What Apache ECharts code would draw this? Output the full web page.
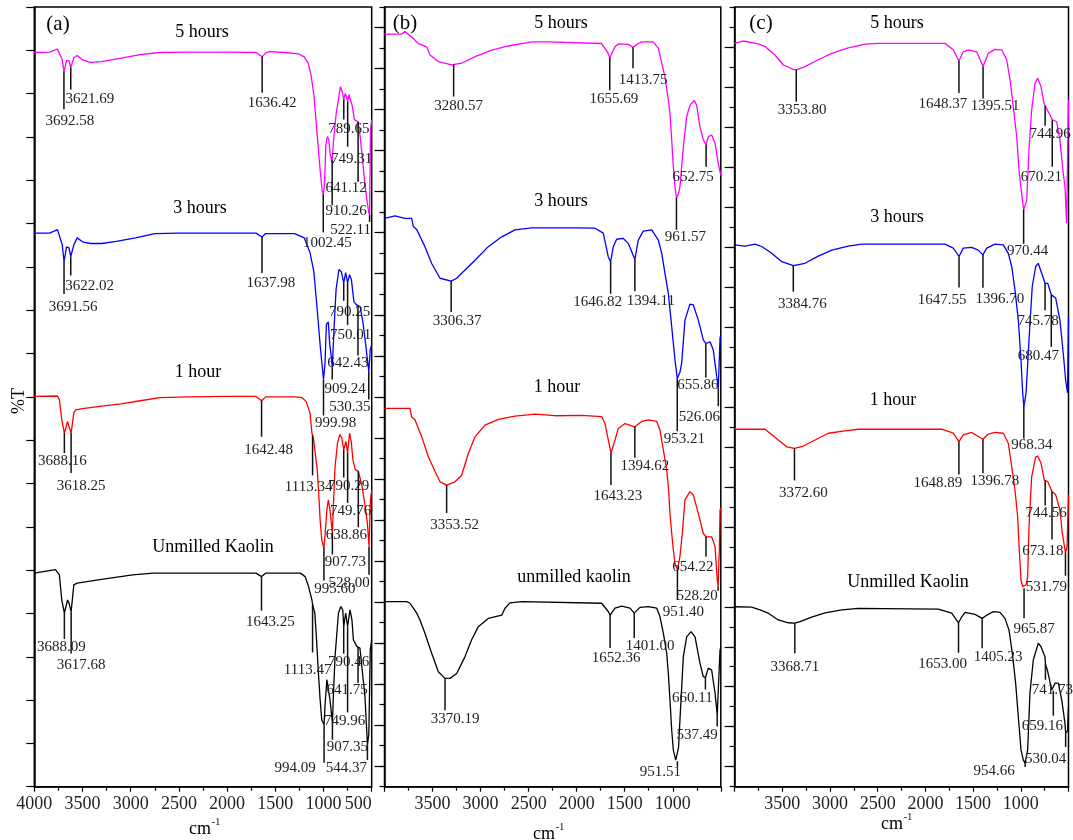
<!DOCTYPE html>
<html>
<head>
<meta charset="utf-8">
<script src="https://cdn.jsdelivr.net/npm/echarts@6/dist/echarts.min.js"></script>
<style>
  html, body { margin: 0; padding: 0; background: #fff; }
  #chart { width: 1073px; height: 840px; }
</style>
</head>
<body>
<div id="chart"></div>
<script>
// FTIR spectra of kaolin milled for different times: [wavenumber cm-1, offset %T]
// Panel (a)
const a_5h = [[4000,169.5],[3840,169.6],[3760,170.3],[3710,167.8],[3692,165.1],[3665,167.7],[3640,167.6],[3622,166.0],[3590,168.3],[3555,168.8],[3500,167.8],[3420,167.2],[3300,167.4],[3100,168.2],[2900,169.0],[2700,169.5],[2400,169.6],[2000,169.6],[1700,169.5],[1636,168.5],[1600,169.4],[1560,169.7],[1400,169.5],[1260,169.2],[1200,168.5],[1160,167.1],[1130,164.4],[1100,159.8],[1070,151.7],[1040,143.6],[1015,137.8],[1002,136.7],[990,139.0],[975,148.2],[960,150.1],[945,149.4],[930,145.9],[912,144.1],[895,149.4],[870,155.1],[845,158.6],[825,161.6],[805,160.4],[790,158.6],[775,160.0],[760,159.3],[749,158.1],[735,159.8],[718,160.2],[700,157.0],[680,154.0],[660,154.0],[641,153.5],[620,150.1],[600,145.9],[575,140.1],[550,135.5],[530,132.5],[522,132.0],[512,151.7],[500,154.0]];
const a_3h = [[4000,127.8],[3840,127.8],[3760,128.6],[3710,125.1],[3692,121.3],[3665,124.6],[3640,124.4],[3622,122.4],[3590,125.1],[3555,126.7],[3500,125.8],[3420,125.4],[3300,125.4],[3150,125.9],[2950,126.7],[2750,127.7],[2500,127.8],[2000,127.8],[1700,127.8],[1638,126.9],[1600,127.7],[1300,127.7],[1200,126.7],[1140,123.3],[1100,118.9],[1065,110.1],[1035,102.0],[1010,96.3],[1000,94.0],[985,97.4],[970,106.7],[950,107.3],[935,102.0],[920,99.5],[909,96.7],[890,106.0],[870,114.7],[840,119.4],[815,118.9],[790,116.3],[770,118.7],[750,116.3],[730,118.2],[710,117.0],[685,112.0],[660,111.3],[620,110.8],[590,107.1],[560,101.6],[530,95.8],[515,100.9],[500,102.0]];
const a_1h = [[4000,90.1],[3760,90.2],[3740,89.3],[3715,84.7],[3688,81.6],[3655,84.3],[3640,84.0],[3618,81.6],[3590,86.3],[3570,87.0],[3500,87.3],[3320,87.8],[3100,88.4],[2900,89.1],[2700,89.8],[2400,90.0],[2000,90.1],[1700,90.1],[1642,89.1],[1600,90.0],[1300,90.0],[1220,89.8],[1180,88.9],[1140,86.3],[1120,81.6],[1105,80.5],[1085,80.1],[1065,73.2],[1050,67.8],[1035,61.6],[1018,57.0],[996,55.1],[985,57.8],[965,63.9],[950,66.2],[933,63.9],[908,58.5],[898,64.7],[880,73.9],[855,79.3],[830,81.3],[810,80.5],[790,77.8],[768,79.7],[750,77.0],[730,81.6],[712,79.6],[695,75.5],[670,73.2],[638,72.8],[600,69.3],[568,64.7],[545,60.9],[528,55.4],[513,66.2],[500,68.5]];
const a_raw = [[4000,49.3],[3780,50.1],[3740,48.9],[3715,43.1],[3688,40.1],[3655,43.1],[3640,42.4],[3618,40.4],[3590,46.6],[3555,47.0],[3320,47.8],[2980,48.9],[2770,49.3],[2000,49.3],[1700,49.3],[1643,48.5],[1600,49.3],[1240,49.3],[1190,48.5],[1155,46.2],[1120,43.1],[1113,42.0],[1090,40.1],[1070,33.2],[1055,27.0],[1035,20.1],[1018,15.4],[994,14.3],[985,18.5],[965,24.7],[950,24.3],[933,20.1],[907,14.7],[898,20.8],[880,30.1],[845,40.1],[820,41.6],[800,40.8],[790,37.0],[770,40.1],[750,37.0],[725,40.8],[705,38.5],[690,33.9],[655,32.4],[622,32.0],[595,26.2],[570,20.8],[544,9.7],[530,12.0],[515,31.6],[500,33.9]];

const a_5h_peaks = [3692.58, 3621.69, 1636.42, 789.65, 749.31, 641.12, 910.26, 522.11, 1002.45];
const a_3h_peaks = [3691.56, 3622.02, 1637.98, 790.25, 750.01, 642.43, 909.24, 530.35, 999.98];
const a_1h_peaks = [3688.16, 3618.25, 1642.48, 1113.34, 790.29, 749.76, 638.86, 907.73, 528.00, 995.60];
const a_raw_peaks = [3688.09, 3617.68, 1643.25, 1113.47, 790.46, 641.75, 749.96, 907.35, 994.09, 544.37];

// Panel (b)
const b_5h = [[4000,183.4],[3821,183.4],[3787,184.0],[3717,182.7],[3648,181.1],[3561,180.3],[3526,178.3],[3440,176.7],[3300,175.9],[3197,176.3],[3058,177.9],[2884,179.5],[2712,180.5],[2468,181.5],[2295,181.5],[1740,181.1],[1680,179.0],[1655,177.7],[1601,180.3],[1567,181.0],[1463,180.9],[1413,180.2],[1359,181.1],[1323,181.5],[1203,181.5],[1150,179.9],[1115,176.3],[1081,173.0],[1046,167.3],[1029,164.1],[1011,157.6],[994,151.1],[977,146.2],[961,143.4],[940,144.5],[925,146.2],[890,155.9],[855,163.3],[821,166.1],[776,167.2],[751,166.1],[717,160.8],[682,157.6],[653,156.4],[630,158.4],[595,158.8],[560,156.8],[526,151.9],[508,149.9],[500,149.0]];
const b_3h = [[4000,138.5],[3891,139.1],[3787,138.5],[3717,138.5],[3700,136.5],[3665,135.8],[3579,131.6],[3509,127.5],[3422,123.9],[3306,123.2],[3249,123.9],[3162,125.9],[3058,128.3],[2920,131.6],[2780,134.0],[2642,135.7],[2468,136.2],[2017,136.2],[1809,136.1],[1723,134.9],[1671,129.1],[1647,127.9],[1619,131.6],[1584,133.4],[1515,133.6],[1463,132.4],[1394,128.5],[1359,133.2],[1307,135.4],[1219,135.7],[1150,133.2],[1115,130.0],[1081,125.1],[1046,120.2],[1011,112.1],[977,104.0],[953,99.5],[925,101.0],[907,103.2],[873,113.7],[821,117.6],[786,117.4],[734,113.7],[682,108.9],[656,108.0],[612,108.4],[578,106.4],[542,99.9],[526,97.1],[508,109.3],[500,110.0]];
const b_1h = [[4000,92.2],[3735,92.2],[3717,90.1],[3683,89.4],[3665,89.0],[3613,85.3],[3544,80.4],[3474,76.8],[3422,74.3],[3353,73.5],[3266,74.3],[3197,75.9],[3128,81.2],[3058,85.3],[2954,88.1],[2816,89.5],[2642,90.3],[2434,90.8],[2226,90.4],[1948,90.5],[1740,90.2],[1705,88.5],[1671,84.5],[1643,81.3],[1601,84.5],[1567,87.3],[1497,88.5],[1395,87.7],[1323,89.0],[1255,89.4],[1167,89.0],[1133,86.9],[1098,82.0],[1063,77.2],[1046,73.1],[1029,66.6],[1011,61.7],[994,57.7],[977,54.4],[951,52.8],[925,56.1],[901,61.7],[873,69.9],[821,71.9],[786,71.1],[734,66.6],[682,61.7],[654,60.9],[595,60.9],[560,58.5],[537,50.4],[528,48.7],[515,58.0],[508,67.4],[500,68.0]];
const b_raw = [[4000,45.1],[3769,45.1],[3735,44.7],[3700,43.5],[3665,42.3],[3631,40.6],[3579,37.4],[3509,32.5],[3440,28.0],[3370,26.4],[3318,26.4],[3249,27.6],[3162,31.7],[3093,35.8],[3024,39.0],[2920,41.0],[2780,41.8],[2746,43.5],[2694,44.8],[2572,45.1],[1740,44.7],[1671,42.7],[1652,41.8],[1601,43.5],[1532,44.0],[1445,43.5],[1401,42.3],[1341,43.7],[1255,43.9],[1167,43.5],[1133,41.4],[1098,37.4],[1063,32.5],[1046,27.6],[1029,21.1],[1011,13.8],[994,8.9],[969,6.5],[951,6.2],[940,9.5],[925,16.3],[890,31.7],[855,36.5],[810,37.8],[768,36.5],[717,30.1],[682,26.8],[660,26.6],[630,28.9],[595,28.4],[560,22.8],[537,17.5],[526,23.6],[508,33.3],[500,34.0]];

const b_5h_peaks = [3280.57, 1655.69, 1413.75, 652.75, 961.57];
const b_3h_peaks = [3306.37, 1646.82, 1394.11, 655.86, 526.06, 953.21];
const b_1h_peaks = [3353.52, 1643.23, 1394.62, 654.22, 528.20, 951.40];
const b_raw_peaks = [3370.19, 1652.36, 1401.00, 660.11, 537.49, 951.51];

// Panel (c)
const c_5h = [[4000,185.9],[3909,186.5],[3752,185.8],[3681,185.1],[3577,183.0],[3490,180.5],[3385,179.4],[3354,179.3],[3262,180.1],[3123,181.8],[2982,183.4],[2808,184.8],[2633,185.7],[2494,185.9],[1795,185.9],[1708,184.3],[1648,181.5],[1603,183.8],[1550,184.3],[1462,183.8],[1396,180.1],[1341,183.4],[1271,184.4],[1200,184.3],[1148,181.8],[1113,176.8],[1079,170.1],[1043,162.6],[1016,153.4],[991,148.4],[970,144.2],[938,146.7],[914,159.3],[886,169.3],[851,175.9],[823,177.2],[788,175.1],[757,170.9],[745,170.3],[729,170.1],[694,168.0],[670,166.8],[624,166.3],[590,161.7],[555,153.4],[537,150.1],[520,140.9],[503,141.0],[500,171.8]];
const c_3h = [[4000,135.5],[3891,135.2],[3786,135.7],[3716,135.1],[3611,133.4],[3506,131.3],[3385,130.3],[3262,130.9],[3123,132.7],[2982,134.2],[2808,135.2],[2668,135.7],[1795,135.7],[1708,134.7],[1648,132.6],[1603,134.7],[1515,134.9],[1446,134.2],[1397,133.0],[1357,134.7],[1271,135.7],[1183,135.5],[1131,133.4],[1095,130.1],[1061,124.2],[1026,116.7],[998,106.7],[980,98.4],[968,95.0],[945,98.4],[914,111.7],[880,125.1],[844,130.1],[817,130.9],[781,128.4],[746,125.9],[718,125.9],[680,123.0],[634,122.2],[590,116.7],[555,108.4],[530,101.7],[510,98.5],[500,117.2]];
const c_1h = [[4000,89.4],[3681,89.4],[3629,88.4],[3542,86.7],[3454,85.0],[3373,84.6],[3280,85.2],[3157,86.7],[3018,88.4],[2843,89.0],[2703,89.4],[1829,89.4],[1708,88.4],[1649,86.3],[1603,88.0],[1515,88.6],[1397,86.9],[1341,88.2],[1271,88.6],[1183,88.4],[1131,85.9],[1095,80.0],[1061,74.2],[1033,67.5],[1016,59.2],[998,51.7],[980,50.0],[966,49.6],[945,50.5],[928,52.5],[914,65.0],[886,77.5],[844,82.5],[823,82.7],[788,80.9],[754,76.7],[718,76.3],[673,73.8],[634,73.0],[590,69.2],[565,63.4],[532,58.5],[515,60.0],[500,73.0]];
const c_raw = [[4000,45.0],[3821,44.9],[3734,44.2],[3647,43.4],[3542,41.7],[3437,41.0],[3369,40.9],[3314,41.3],[3192,42.4],[3052,43.5],[2877,44.2],[2703,44.6],[1865,44.4],[1724,43.4],[1653,41.0],[1619,42.5],[1585,43.6],[1480,43.1],[1405,42.1],[1357,42.9],[1288,43.8],[1218,43.6],[1166,42.1],[1124,39.2],[1089,33.4],[1054,25.9],[1026,17.5],[998,9.2],[974,6.7],[955,5.9],[928,9.2],[904,23.4],[869,31.7],[817,35.9],[788,35.0],[747,32.5],[741,30.5],[722,29.2],[676,24.2],[659,24.0],[640,25.9],[607,25.9],[571,21.7],[537,15.9],[530,13.4],[510,14.0],[500,20.0]];

const c_5h_peaks = [3353.80, 1648.37, 1395.51, 744.96, 670.21, 970.44];
const c_3h_peaks = [3384.76, 1647.55, 1396.70, 745.78, 680.47, 968.34];
const c_1h_peaks = [3372.60, 1648.89, 1396.78, 744.56, 673.18, 531.79, 965.87];
const c_raw_peaks = [3368.71, 1653.00, 1405.23, 741.73, 659.16, 530.04, 954.66];

// Leader-line layout for each peak label: [line length px, text dx px, text dy px]
const a_5h_tags = [[38,6,12],[22,19,10],[36,10,10],[20,5,10],[45,4,12],[60,-12,6],[45,14,6],[7,-19,8],[38,4,11]];
const a_3h_tags = [[33,9,13],[19,19,11],[36,9,10],[18,6,11],[42,3,10],[50,-10,8],[12,13,9],[28,-19,8],[36,12,8]];
const a_1h_tags = [[20,-2,8],[40,10,13],[36,7,13],[40,-4,12],[28,5,9],[50,3,8],[56,-12,8],[22,13,7],[28,-20,8],[33,11,8]];
const a_raw_tags = [[26,-3,8],[42,10,12],[34,9,11],[48,-5,18],[28,5,8],[36,-11,7],[86,-3,9],[17,15,7],[38,-29,5],[16,-21,8]];
const b_5h_tags = [[32,5,10],[33,4,9],[21,10,12],[22,-13,10],[32,9,7]];
const b_3h_tags = [[31,6,9],[32,-13,8],[32,16,10],[34,-8,8],[18,-19,11],[53,7,8]];
const b_1h_tags = [[28,8,12],[32,7,11],[31,10,8],[20,-13,10],[4,-21,5],[30,6,12]];
const b_raw_tags = [[32,10,9],[33,6,10],[25,16,8],[12,-13,9],[12,-20,9],[5,-17,6]];
const c_5h_tags = [[32,6,8],[32,-16,11],[32,12,8],[20,5,8],[47,-11,10],[34,4,7]];
const c_3h_tags = [[26,9,12],[31,-17,13],[33,17,11],[27,-7,11],[52,-13,9],[32,8,7]];
const c_1h_tags = [[32,9,13],[33,-21,8],[34,12,8],[25,1,8],[48,-9,11],[23,-19,11],[30,10,11]];
const c_raw_tags = [[30,0,14],[30,-16,11],[30,16,9],[16,7,10],[25,-11,10],[14,-20,12],[4,-31,4]];

const SERIF = '"Liberation Serif", "Times New Roman", serif';
const COL = { h5: '#ff00ff', h3: '#0000ff', h1: '#ff0000', raw: '#000000' };

// value of a curve at a given wavenumber (linear between neighbouring points)
function curveAt(curve, wn) {
  for (let i = 0; i < curve.length - 1; i++) {
    const [x0, y0] = curve[i], [x1, y1] = curve[i + 1];
    if (wn <= x0 && wn >= x1) {
      const t = (x0 - wn) / (x0 - x1);
      return y0 + t * (y1 - y0);
    }
  }
  return curve[curve.length - 1][1];
}

function spectrum(curve, color, xi, yi) {
  return {
    type: 'line', data: curve, xAxisIndex: xi, yAxisIndex: yi,
    showSymbol: false, symbol: 'none', silent: true, z: 2,
    lineStyle: { color: color, width: 1.3 }
  };
}

function peakMarks(curve, peaks, tags, xi, yi) {
  return {
    type: 'custom', xAxisIndex: xi, yAxisIndex: yi, silent: true, z: 5, clip: false,
    encode: { x: 0, y: 1 },
    data: peaks.map((wn, i) => [wn, curveAt(curve, wn), tags[i][0], tags[i][1], tags[i][2]]),
    renderItem: function (params, api) {
      const wn = api.value(0);
      const p = api.coord([wn, api.value(1)]);
      const len = api.value(2), dx = api.value(3), dy = api.value(4);
      return {
        type: 'group',
        children: [
          { type: 'line', shape: { x1: p[0], y1: p[1], x2: p[0], y2: p[1] + len },
            style: { stroke: '#111', lineWidth: 1.5 } },
          { type: 'text', x: p[0] + dx, y: p[1] + len + dy,
            style: { text: wn.toFixed(2), fill: '#222', font: '15px ' + SERIF,
                     textAlign: 'center', textVerticalAlign: 'middle' } }
        ]
      };
    }
  };
}

const gridBox = { top: 7, height: 779.7, show: true, borderColor: '#000', borderWidth: 1.5, backgroundColor: 'transparent' };
const grids = [
  Object.assign({ left: 34.3, width: 337.4 }, gridBox),
  Object.assign({ left: 384.5, width: 336.3 }, gridBox),
  Object.assign({ left: 734.6, width: 333.9 }, gridBox)
];

const xAxes = [0, 1, 2].map(i => ({
  type: 'value', gridIndex: i, min: 500, max: 4000, interval: 500, inverse: true,
  axisLine: { show: true, lineStyle: { color: '#000', width: 1.5 } },
  axisTick: { show: true, length: 5, lineStyle: { color: '#000', width: 1.2 } },
  minorTick: { show: true, splitNumber: 2, length: 4, lineStyle: { color: '#000', width: 1.2 } },
  splitLine: { show: false },
  axisLabel: {
    fontFamily: SERIF, fontSize: 18, color: '#222', margin: 9,
    formatter: v => String(v),
    showMinLabel: i === 0, showMaxLabel: i === 0,
    alignMinLabel: i === 0 ? 'right' : undefined
  }
}));

function oddTicks(max) { const v = []; for (let t = 5; t < max; t += 10) v.push(t); return v; }
const yBase = {
  type: 'value', min: 0, position: 'left', splitLine: { show: false }, axisLabel: { show: false },
  axisLine: { show: true, lineStyle: { color: '#000', width: 1.5 } }
};
const yAxes = [
  Object.assign({}, yBase, { gridIndex: 0, max: 180, interval: 10,
    axisTick: { show: true, length: 8, lineStyle: { color: '#000', width: 1.2 } } }),
  Object.assign({}, yBase, { gridIndex: 1, max: 190, interval: 5,
    axisTick: { show: true, length: 5, lineStyle: { color: '#000', width: 1.2 } } }),
  Object.assign({}, yBase, { gridIndex: 1, max: 190, axisLine: { show: false },
    axisTick: { show: true, length: 10, customValues: oddTicks(190), lineStyle: { color: '#000', width: 1.2 } } }),
  Object.assign({}, yBase, { gridIndex: 2, max: 195, interval: 5,
    axisTick: { show: true, length: 5, lineStyle: { color: '#000', width: 1.2 } } }),
  Object.assign({}, yBase, { gridIndex: 2, max: 195, axisLine: { show: false },
    axisTick: { show: true, length: 10, customValues: oddTicks(195), lineStyle: { color: '#000', width: 1.2 } } })
];

const panelDefs = [
  { xi: 0, yi: 0, sets: [[a_5h, a_5h_peaks, a_5h_tags, COL.h5], [a_3h, a_3h_peaks, a_3h_tags, COL.h3], [a_1h, a_1h_peaks, a_1h_tags, COL.h1], [a_raw, a_raw_peaks, a_raw_tags, COL.raw]] },
  { xi: 1, yi: 1, sets: [[b_5h, b_5h_peaks, b_5h_tags, COL.h5], [b_3h, b_3h_peaks, b_3h_tags, COL.h3], [b_1h, b_1h_peaks, b_1h_tags, COL.h1], [b_raw, b_raw_peaks, b_raw_tags, COL.raw]] },
  { xi: 2, yi: 3, sets: [[c_5h, c_5h_peaks, c_5h_tags, COL.h5], [c_3h, c_3h_peaks, c_3h_tags, COL.h3], [c_1h, c_1h_peaks, c_1h_tags, COL.h1], [c_raw, c_raw_peaks, c_raw_tags, COL.raw]] }
];

const series = [];
panelDefs.forEach(pd => {
  pd.sets.forEach(s => series.push(spectrum(s[0], s[3], pd.xi, pd.yi)));
  pd.sets.forEach(s => series.push(peakMarks(s[0], s[1], s[2], pd.xi, pd.yi)));
});

// sample names, panel letters and axis titles
function txt(x, y, text, size, extra) {
  return Object.assign({ type: 'text', x: x, y: y, silent: true, z: 10,
    style: { text: text, fill: '#000', font: size + 'px ' + SERIF, textAlign: 'center', textVerticalAlign: 'middle' } }, extra || {});
}
const graphics = [
  txt(58, 24, '(a)', 21), txt(405, 23, '(b)', 21), txt(761, 23, '(c)', 21),
  txt(202, 32, '5 hours', 18), txt(200, 208, '3 hours', 18), txt(198, 372, '1 hour', 18), txt(213, 547, 'Unmilled Kaolin', 18),
  txt(561, 23, '5 hours', 18), txt(561, 201, '3 hours', 18), txt(557, 387, '1 hour', 18), txt(574, 577, 'unmilled kaolin', 18),
  txt(897, 23, '5 hours', 18), txt(897, 217, '3 hours', 18), txt(893, 400, '1 hour', 18), txt(908, 582, 'Unmilled Kaolin', 18),
  txt(200, 829, 'cm', 18), txt(216, 822, '-1', 10),
  txt(544, 834, 'cm', 18), txt(560, 827, '-1', 10),
  txt(892, 824, 'cm', 18), txt(908, 817, '-1', 10),
  txt(19, 401, '%T', 18, { rotation: Math.PI / 2 })
];

const chart = echarts.init(document.getElementById('chart'));
chart.setOption({
  animation: false,
  backgroundColor: '#fff',
  grid: grids,
  xAxis: xAxes,
  yAxis: yAxes,
  series: series,
  graphic: graphics
});
</script>
</body>
</html>
